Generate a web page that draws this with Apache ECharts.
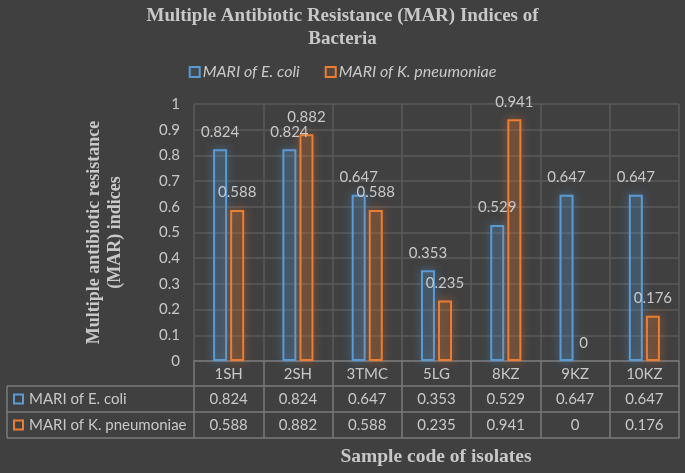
<!DOCTYPE html>
<html>
<head>
<meta charset="utf-8">
<script src="https://cdn.jsdelivr.net/npm/echarts@6/dist/echarts.min.js"></script>
<style>
html,body{margin:0;padding:0;background:#404040;}
#c{width:685px;height:473px;}
</style>
</head>
<body>
<div id="c"></div>
<script>
var categories = ['1SH', '2SH', '3TMC', '5LG', '8KZ', '9KZ', '10KZ'];
var seriesNames = ['MARI of E. coli', 'MARI of K. pneumoniae'];
var ecoli = [0.824, 0.824, 0.647, 0.353, 0.529, 0.647, 0.647];
var kpneu = [0.588, 0.882, 0.588, 0.235, 0.941, 0, 0.176];
var yTicks = [0, 0.1, 0.2, 0.3, 0.4, 0.5, 0.6, 0.7, 0.8, 0.9, 1];

var colors = ['#5b9bd5', '#ed7d31'];
var glow = ['rgba(91,155,213,0.8)', 'rgba(237,125,49,0.8)'];
var fills = ['rgba(91,155,213,0.10)', 'rgba(237,125,49,0.10)'];
var textCol = '#c8c8c8';
var tableLine = '#7a7a7a';
var gridLine = '#5a5a5a';
var sansFont = 'Lato, "Open Sans", sans-serif';
var serifFont = '"Liberation Serif", "DejaVu Serif", serif';

var chart = echarts.init(document.getElementById('c'), null, {renderer: 'canvas'});

var rowTop = [386, 412];
var rowBottom = 438;

function tableAxis(idx, offset, tickLen, vals) {
  return {
    type: 'category',
    data: categories,
    position: 'bottom',
    offset: offset,
    gridIndex: 0,
    axisLine: {show: true, lineStyle: {color: tableLine, width: 1.5}},
    axisTick: {show: tickLen > 0, interval: 0, length: tickLen, lineStyle: {color: tableLine, width: 1.5}},
    axisLabel: {
      show: !!vals,
      interval: 0,
      margin: Math.round(tickLen / 2),
      verticalAlign: 'middle',
      color: textCol,
      fontFamily: sansFont,
      fontSize: 15,
      formatter: function (v, i) { return vals ? String(vals[i]) : ''; }
    },
    splitLine: {show: false}
  };
}

var graphics = [];
[386, 412, 438].forEach(function (y) {
  graphics.push({type: 'line', shape: {x1: 7, y1: y, x2: 194, y2: y}, style: {stroke: tableLine, lineWidth: 1.5}});
});
graphics.push({type: 'line', shape: {x1: 7, y1: 386, x2: 7, y2: 438}, style: {stroke: tableLine, lineWidth: 1.5}});
seriesNames.forEach(function (n, i) {
  var cy = (rowTop[i] + (i === 0 ? rowTop[1] : rowBottom)) / 2;
  graphics.push({type: 'rect', shape: {x: 14, y: cy - 4.5, width: 9, height: 9}, style: {fill: 'transparent', stroke: colors[i], lineWidth: 2}});
  graphics.push({type: 'text', x: 29, y: cy, style: {text: n, fill: textCol, font: '15px ' + sansFont, textVerticalAlign: 'middle', textAlign: 'left'}});
});
graphics.push({type: 'text', x: 436, y: 457, style: {text: 'Sample code of isolates', fill: textCol, font: 'bold 19.5px ' + serifFont, textAlign: 'center', textVerticalAlign: 'middle'}});

var option = {
  backgroundColor: '#404040',
  animation: false,
  title: {
    text: 'Multiple Antibiotic Resistance (MAR) Indices of\nBacteria',
    left: 'center',
    top: 0,
    textStyle: {color: textCol, fontFamily: serifFont, fontWeight: 'bold', fontSize: 19, lineHeight: 23}
  },
  legend: {
    data: seriesNames,
    top: 59,
    left: 'center',
    itemWidth: 10,
    itemHeight: 10,
    itemGap: 25,
    icon: 'rect',
    textStyle: {color: textCol, fontFamily: sansFont, fontStyle: 'italic', fontSize: 16, padding: [0, 0, 0, -2]},
    itemStyle: {shadowBlur: 0, borderWidth: 2, borderColor: 'inherit'}
  },
  grid: {left: 194, right: 6, top: 104, bottom: 112, containLabel: false},
  xAxis: [
    {
      type: 'category',
      data: categories,
      position: 'bottom',
      axisLine: {show: true, lineStyle: {color: tableLine, width: 1.5}},
      axisTick: {show: true, interval: 0, length: 25, lineStyle: {color: tableLine, width: 1.5}},
      axisLabel: {interval: 0, margin: 13, verticalAlign: 'middle', color: textCol, fontFamily: sansFont, fontSize: 15},
      splitLine: {show: true, interval: 0, lineStyle: {color: gridLine, width: 1.5}}
    },
    tableAxis(1, 25, 26, ecoli),
    tableAxis(2, 51, 26, kpneu),
    tableAxis(3, 77, 0, null)
  ],
  yAxis: {
    type: 'value',
    min: 0,
    max: 1,
    interval: 0.1,
    name: 'Multiple antibiotic resistance\n(MAR) indices',
    nameLocation: 'middle',
    nameGap: 68,
    nameTextStyle: {color: textCol, fontFamily: serifFont, fontWeight: 'bold', fontSize: 18, lineHeight: 21},
    axisLine: {show: false},
    axisTick: {show: false},
    axisLabel: {
      color: textCol, fontFamily: sansFont, fontSize: 15, margin: 14,
      formatter: function (v) {
        var t = yTicks.filter(function (x) { return Math.abs(x - v) < 1e-9; });
        return t.length ? String(t[0]) : '';
      }
    },
    splitLine: {show: true, lineStyle: {color: gridLine, width: 1.5}}
  },
  series: [ecoli, kpneu].map(function (vals, i) {
    return {
      name: seriesNames[i],
      type: 'bar',
      data: vals.map(function (v) {
        return v === 0 ? {value: v, itemStyle: {borderWidth: 0, shadowBlur: 0}} : v;
      }),
      barWidth: 14,
      barGap: '22%',
      itemStyle: {
        color: fills[i],
        borderColor: colors[i],
        borderWidth: 2,
        shadowBlur: 10,
        shadowColor: glow[i]
      },
      label: {
        show: true,
        position: 'top',
        distance: 10,
        color: textCol,
        fontFamily: sansFont,
        fontSize: 15,
        formatter: function (p) { return String(p.value); }
      }
    };
  }),
  graphic: graphics
};
chart.setOption(option);
</script>
</body>
</html>
